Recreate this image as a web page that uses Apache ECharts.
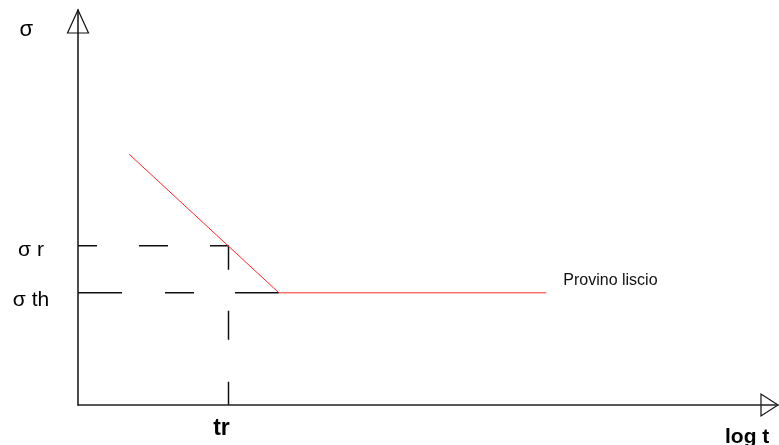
<!DOCTYPE html>
<html>
<head>
<meta charset="utf-8">
<script src="https://cdn.jsdelivr.net/npm/echarts@6/dist/echarts.min.js"></script>
<style>
  html, body { margin: 0; padding: 0; background: #fff; }
  #chart { width: 779px; height: 445px; }
</style>
</head>
<body>
<div id="chart"></div>
<script>
// Stress vs. log time, schematic units (0..100 on each axis)
const curveT = [7.3, 28.7, 66.9];
const curveSigma = [63.5, 28.4, 28.4];
const curveName = 'Provino liscio';

const levelNames = ['σ th', 'σ r'];
const levelValues = [28.4, 40.3];
const timeNames = ['tr'];
const timeValues = [21.5];

const axisMax = 100;

const sigmaTh = levelValues[0];
const sigmaR = levelValues[1];
const tr = timeValues[0];
const knee = curveT[1];

const FONT = '"Liberation Sans", Arial, sans-serif';
const BOLD = '"Liberation Sans Narrow", "Arial Narrow", "Liberation Sans", sans-serif';

const chart = echarts.init(document.getElementById('chart'), null, { renderer: 'canvas' });

function dashed(points, pattern) {
  return {
    type: 'line',
    data: points,
    symbol: 'none',
    silent: true,
    lineStyle: { color: '#111', width: 1.5, type: pattern }
  };
}

chart.setOption({
  animation: false,
  backgroundColor: '#fff',
  grid: { left: 78, right: 1, top: 10, bottom: 40, outerBoundsMode: 'none', containLabel: false },
  xAxis: {
    type: 'value', min: 0, max: axisMax,
    name: 'log t',
    nameLocation: 'end',
    nameGap: -53,
    nameTextStyle: {
      fontFamily: BOLD, fontWeight: 'bold', fontSize: 21, color: '#000',
      align: 'left', verticalAlign: 'top', padding: [22, 0, 0, 0]
    },
    splitLine: { show: false },
    axisTick: { show: false },
    axisLine: { lineStyle: { color: '#222', width: 1.5 } },
    axisLabel: {
      customValues: timeValues,
      formatter: v => timeNames[timeValues.indexOf(v)] || '',
      fontFamily: BOLD, fontWeight: 'bold', fontSize: 23, color: '#000',
      margin: 12,
      padding: [0, 14, 0, 0]
    }
  },
  yAxis: {
    type: 'value', min: 0, max: axisMax,
    name: 'σ',
    nameLocation: 'end',
    nameGap: -31,
    nameTextStyle: {
      fontFamily: FONT, fontSize: 22, color: '#000',
      align: 'right', verticalAlign: 'bottom', padding: [0, 45, 0, 0]
    },
    splitLine: { show: false },
    axisTick: { show: false },
    axisLine: { lineStyle: { color: '#111', width: 1.5 } },
    axisLabel: {
      customValues: levelValues,
      formatter: v => {
        const i = levelValues.indexOf(v);
        return i === 0 ? '{th|' + levelNames[0] + '}' : '{r|' + levelNames[1] + '}';
      },
      margin: 47,
      align: 'center',
      rich: {
        th: { fontFamily: FONT, fontSize: 21, color: '#000', padding: [15, 0, 0, 0] },
        r: { fontFamily: FONT, fontSize: 21, color: '#000', padding: [9, 0, 0, 0] }
      }
    }
  },
  series: [
    dashed([[0, sigmaR], [tr, sigmaR]], [19, 42, 29, 42, 19, 60]),
    dashed([[0, sigmaTh], [knee, sigmaTh]], [44, 43, 29, 41, 45, 60]),
    dashed([[tr, sigmaR], [tr, 0]], [24, 41, 29, 42, 23, 60]),
    {
      type: 'line',
      name: curveName,
      data: curveT.map((t, i) => [t, curveSigma[i]]),
      symbol: 'none',
      silent: true,
      lineStyle: { color: '#ff2a2a', width: 1 },
      endLabel: {
        show: true,
        formatter: curveName,
        fontFamily: FONT, fontSize: 16, color: '#111',
        distance: 17,
        offset: [0, -12]
      }
    }
  ]
});

// Open arrowheads at the ends of both axes
const yTip = chart.convertToPixel({ gridIndex: 0 }, [0, axisMax]);
const xTip = chart.convertToPixel({ gridIndex: 0 }, [axisMax, 0]);
chart.setOption({
  graphic: [
    {
      type: 'polygon',
      shape: { points: [[yTip[0], yTip[1]], [yTip[0] - 10.5, yTip[1] + 23], [yTip[0] + 10.5, yTip[1] + 23]] },
      style: { fill: 'none', stroke: '#111', lineWidth: 1.2 },
      silent: true
    },
    {
      type: 'polygon',
      shape: { points: [[xTip[0], xTip[1]], [xTip[0] - 17, xTip[1] - 11], [xTip[0] - 17, xTip[1] + 11]] },
      style: { fill: 'none', stroke: '#111', lineWidth: 1.2 },
      silent: true
    }
  ]
});
</script>
</body>
</html>
